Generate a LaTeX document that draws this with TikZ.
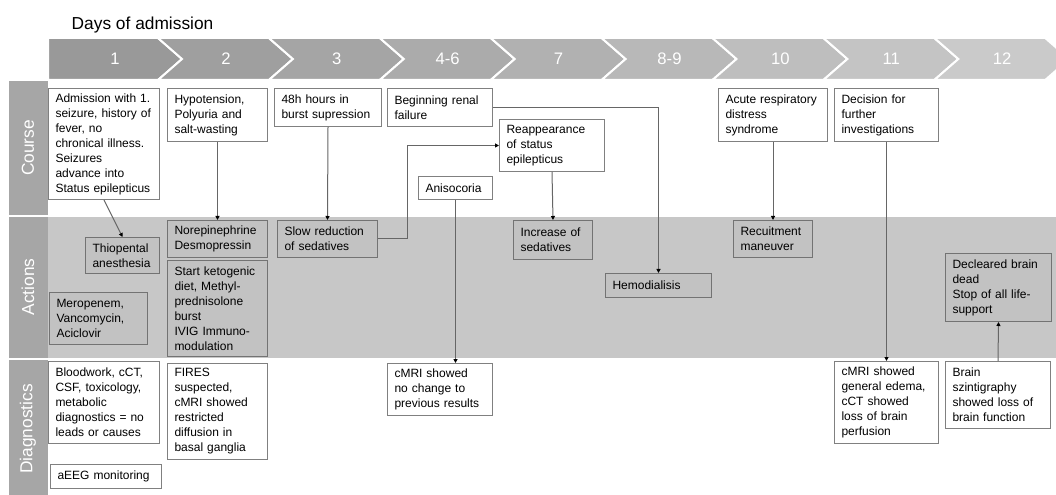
\documentclass[tikz,border=0pt]{standalone}
\usepackage{fontspec}
\setmainfont{Liberation Sans}
\usetikzlibrary{arrows.meta}
\newdimen\px \px=0.75pt
\begin{document}
\begin{tikzpicture}[x=0.75pt,y=-0.75pt,
  evt/.style={draw=black!50,fill=white,line width=0.75pt,anchor=north west,align=left,inner xsep=7\px,inner ysep=0pt,font=\fontsize{9}{11.25}\selectfont},
  act/.style={evt,draw=black!55,fill=black!24},
  lane/.style={rotate=90,text=white,font=\fontsize{13}{16}\selectfont},
  arr/.style={draw=black!60,line width=0.75pt,-{Triangle[width=3pt,length=3pt,color=black]}}]
\clip (0,0) rectangle (1056,495);
\fill[white] (0,0) rectangle (1056,495);
\node[anchor=base west,font=\fontsize{13}{16}\selectfont] (title) at (67,30) {Days of admission};
\foreach \lbl [count=\i from 0] in {1,2,3,4-6,7,8-9,10,11,12} {
  \pgfmathsetmacro\T{182+110.9*\i}
  \pgfmathsetmacro\L{\i==0 ? 48 : \T-134.9}
  \pgfmathsetmacro\N{\i==0 ? 48 : \T-110.9}
  \pgfmathsetmacro\c{40-2.4*\i}
  \filldraw[fill=black!\c,draw=white,line width=1.5pt] (\L,38) -- (\T-24,38) -- (\T,59) -- (\T-24,80) -- (\L,80) -- (\N,59) -- cycle;
  \node[text=white,font=\fontsize{12.5}{15}\selectfont] (day\i) at (\T-67,59) {\lbl};
}
\fill[black!22] (48,217) rectangle (1056,358);
\fill[black!35] (9,81) rectangle (48,215);
\fill[black!35] (9,217) rectangle (48,358);
\fill[black!35] (9,360) rectangle (48,495);
\node[lane] (lcourse) at (28,148) {Course};
\node[lane] (lact) at (28,287) {Actions};
\node[lane] (ldiag) at (28,429) {Diagnostics};

\node[evt,text width=97\px,minimum height=111\px] (adm) at (48,88) {Admission with 1.\\seizure, history of\\fever, no\\chronical illness.\\Seizures\\advance into\\Status epilepticus};
\node[evt,text width=86\px,minimum height=53\px] (hypo) at (167,88) {Hypotension,\\Polyuria and\\salt-wasting};
\node[evt,text width=93\px,minimum height=38\px] (burst) at (274,88) {48h hours in\\burst supression};
\node[evt,text width=91\px,minimum height=38\px] (renal) at (387,88) {Beginning renal\\failure};
\node[evt,text width=91\px,minimum height=52\px] (reapp) at (499,119) {Reappearance\\of status\\epilepticus};
\node[evt,text width=60\px,minimum height=23\px] (aniso) at (418,176) {Anisocoria};
\node[evt,text width=95\px,minimum height=53\px] (ards) at (718,88) {Acute respiratory\\distress\\syndrome};
\node[evt,text width=90\px,minimum height=53\px] (decis) at (834,88) {Decision for\\further\\investigations};

\node[act,text width=60\px,minimum height=36\px] (thio) at (85,237) {Thiopental\\anesthesia};
\node[act,text width=86\px,minimum height=37\px] (norepi) at (167,220) {Norepinephrine\\Desmopressin};
\node[act,text width=86\px,minimum height=96\px] (keto) at (167,260) {Start ketogenic\\diet, Methyl-\\prednisolone\\burst\\IVIG Immuno-\\modulation};
\node[act,text width=84\px,minimum height=52\px] (mero) at (49,292) {Meropenem,\\Vancomycin,\\Aciclovir};
\node[act,text width=86\px,minimum height=37\px] (slow) at (277,220) {Slow reduction\\of sedatives};
\node[act,text width=65\px,minimum height=39\px] (incr) at (513,220) {Increase of\\sedatives};
\node[act,text width=92\px,minimum height=24\px] (hemo) at (605,273) {Hemodialisis};
\node[act,text width=65\px,minimum height=37\px] (recruit) at (733,220) {Recuitment\\maneuver};
\node[act,text width=92\px,minimum height=68\px] (dead) at (945,253) {Decleared brain\\dead\\Stop of all life-\\support};

\node[evt,text width=97\px,minimum height=82\px] (blood) at (48,361) {Bloodwork, cCT,\\CSF, toxicology,\\metabolic\\diagnostics = no\\leads or causes};
\node[evt,text width=86\px,minimum height=96\px] (fires) at (167,363) {FIRES\\suspected,\\cMRI showed\\restricted\\diffusion in\\basal ganglia};
\node[evt,text width=97\px,minimum height=24\px] (aeeg) at (50,464) {aEEG monitoring};
\node[evt,text width=91\px,minimum height=52\px] (cmri) at (387,363) {cMRI showed\\no change to\\previous results};
\node[evt,text width=90\px,minimum height=82\px] (edema) at (834,361) {cMRI showed\\general edema,\\cCT showed\\loss of brain\\perfusion};
\node[evt,text width=91\px,minimum height=67\px] (szinti) at (945,361) {Brain\\szintigraphy\\showed loss of\\brain function};

\draw[arr] (adm.south) -- (thio.north);
\draw[arr] (hypo.south) -- (norepi.north);
\draw[arr] (burst.south) -- (slow.north);
\draw[arr] (slow.east) -- ++(29,0) |- (reapp.west);
\draw[arr] (reapp.south) -- (incr.north);
\draw[arr] (renal.east) -| (hemo.north);
\draw[arr] (aniso.south) -- (aniso.south |- cmri.north);
\draw[arr] (ards.south) -- (recruit.north);
\draw[arr] (decis.south) -- (edema.north);
\draw[arr] (szinti.north) -- (dead.south);
\end{tikzpicture}
\end{document}
